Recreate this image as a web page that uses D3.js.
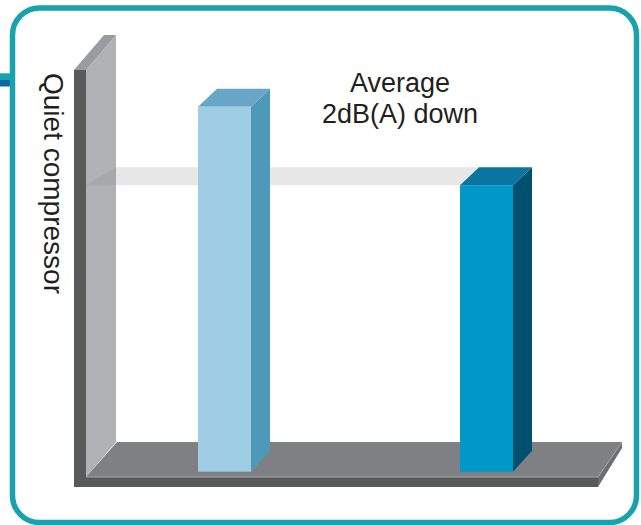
<!DOCTYPE html>
<html>
<head>
<meta charset="utf-8">
<script src="https://cdn.jsdelivr.net/npm/d3@7"></script>
<style>
  html, body { margin: 0; padding: 0; background: #ffffff; }
  svg { display: block; }
</style>
</head>
<body>
<svg id="chart" width="641" height="525"></svg>
<script>
// ---- data ----
const categories = ["Conventional compressor", "Quiet compressor"];
const values = [100, 78.5];            // relative noise level (bar 2 shown ~2dB(A) lower)
const frontColors = ["#9fcde4", "#0097c9"];
const sideColors  = ["#4f99b8", "#00516f"];
const topColors   = ["#67a7c5", "#0a76a0"];
const annotationLines = ["Average", "2dB(A) down"];
const axisTitle = "Quiet compressor";

const svg = d3.select("#chart");

// ---- frame ----
svg.append("rect").attr("x", 0).attr("y", 73.3).attr("width", 12).attr("height", 6.9).attr("fill", "#17a2ae");
svg.append("rect").attr("x", 0).attr("y", 80).attr("width", 12).attr("height", 6.5).attr("fill", "#0e67a5");
svg.append("rect")
  .attr("x", 12.5).attr("y", 8).attr("width", 624).attr("height", 514.5)
  .attr("rx", 27).attr("ry", 27)
  .attr("fill", "none").attr("stroke", "#17a2ae").attr("stroke-width", 5.5);

// ---- scales ----
const barW = 53, dx = 19, dy = -18;
const x = d3.scalePoint().domain(categories).range([224.5, 486.5]);
const y = d3.scaleLinear().domain([0, 100]).range([471.7, 106.7]);

const line = d3.line();

// ---- back wall ----
svg.append("path").attr("d", line([[86,70],[116,35],[116,442],[86,477]]) + "Z").attr("fill", "#b1b2b5");
svg.append("path").attr("d", line([[74,70],[86,70],[116,35],[104,35]]) + "Z").attr("fill", "#9a9b9e");
svg.append("rect").attr("x", 74).attr("y", 70).attr("width", 12).attr("height", 417).attr("fill", "#58595b");

// ---- floor ----
svg.append("path").attr("d", line([[86,477],[117,442],[622,442],[598,477]]) + "Z").attr("fill", "#7f8083");
svg.append("path").attr("d", line([[598,477],[622,442],[622,448],[598,487]]) + "Z").attr("fill", "#6d6e71");
svg.append("rect").attr("x", 74).attr("y", 477).attr("width", 524).attr("height", 10).attr("fill", "#58595b");
svg.append("path").attr("d", line([[86,477],[598,477],[622,442]])).attr("fill", "none").attr("stroke", "#a3a4a7").attr("stroke-width", 1);

// ---- reference plane at the lower bar's level ----
const yRef = y(values[1]);
const x2 = x(categories[1]) - barW / 2;
svg.append("path")
  .attr("d", line([[86, yRef], [116, yRef + dy], [x2 + dx, yRef + dy], [x2, yRef]]) + "Z")
  .attr("fill", "#7f8083").attr("fill-opacity", 0.19);

// ---- bars ----
const bars = svg.append("g").selectAll("g").data(categories).join("g");
bars.append("path") // side
  .attr("d", (c, i) => {
    const x0 = x(c) - barW / 2, t = y(values[i]), b = y(0);
    return line([[x0 + barW, t], [x0 + barW + dx, t + dy], [x0 + barW + dx, b + dy - 3], [x0 + barW, b]]) + "Z";
  })
  .attr("fill", (c, i) => sideColors[i]);
bars.append("path") // top
  .attr("d", (c, i) => {
    const x0 = x(c) - barW / 2, t = y(values[i]);
    return line([[x0, t], [x0 + dx, t + dy], [x0 + barW + dx, t + dy], [x0 + barW, t]]) + "Z";
  })
  .attr("fill", (c, i) => topColors[i]);
bars.append("rect") // front
  .attr("x", c => x(c) - barW / 2)
  .attr("y", (c, i) => y(values[i]))
  .attr("width", barW)
  .attr("height", (c, i) => y(0) - y(values[i]))
  .attr("fill", (c, i) => frontColors[i]);

// ---- texts ----
svg.append("text")
  .attr("transform", "translate(43.5,73) rotate(90)")
  .attr("font-family", "Liberation Sans, Arial, sans-serif")
  .attr("font-size", 28).attr("fill", "#231f20")
  .text(axisTitle);

svg.append("g").selectAll("text").data(annotationLines).join("text")
  .attr("x", 400).attr("y", (d, i) => 92 + i * 31)
  .attr("text-anchor", "middle")
  .attr("font-family", "Liberation Sans, Arial, sans-serif")
  .attr("font-size", 27).attr("fill", "#231f20")
  .text(d => d);
</script>
</body>
</html>
